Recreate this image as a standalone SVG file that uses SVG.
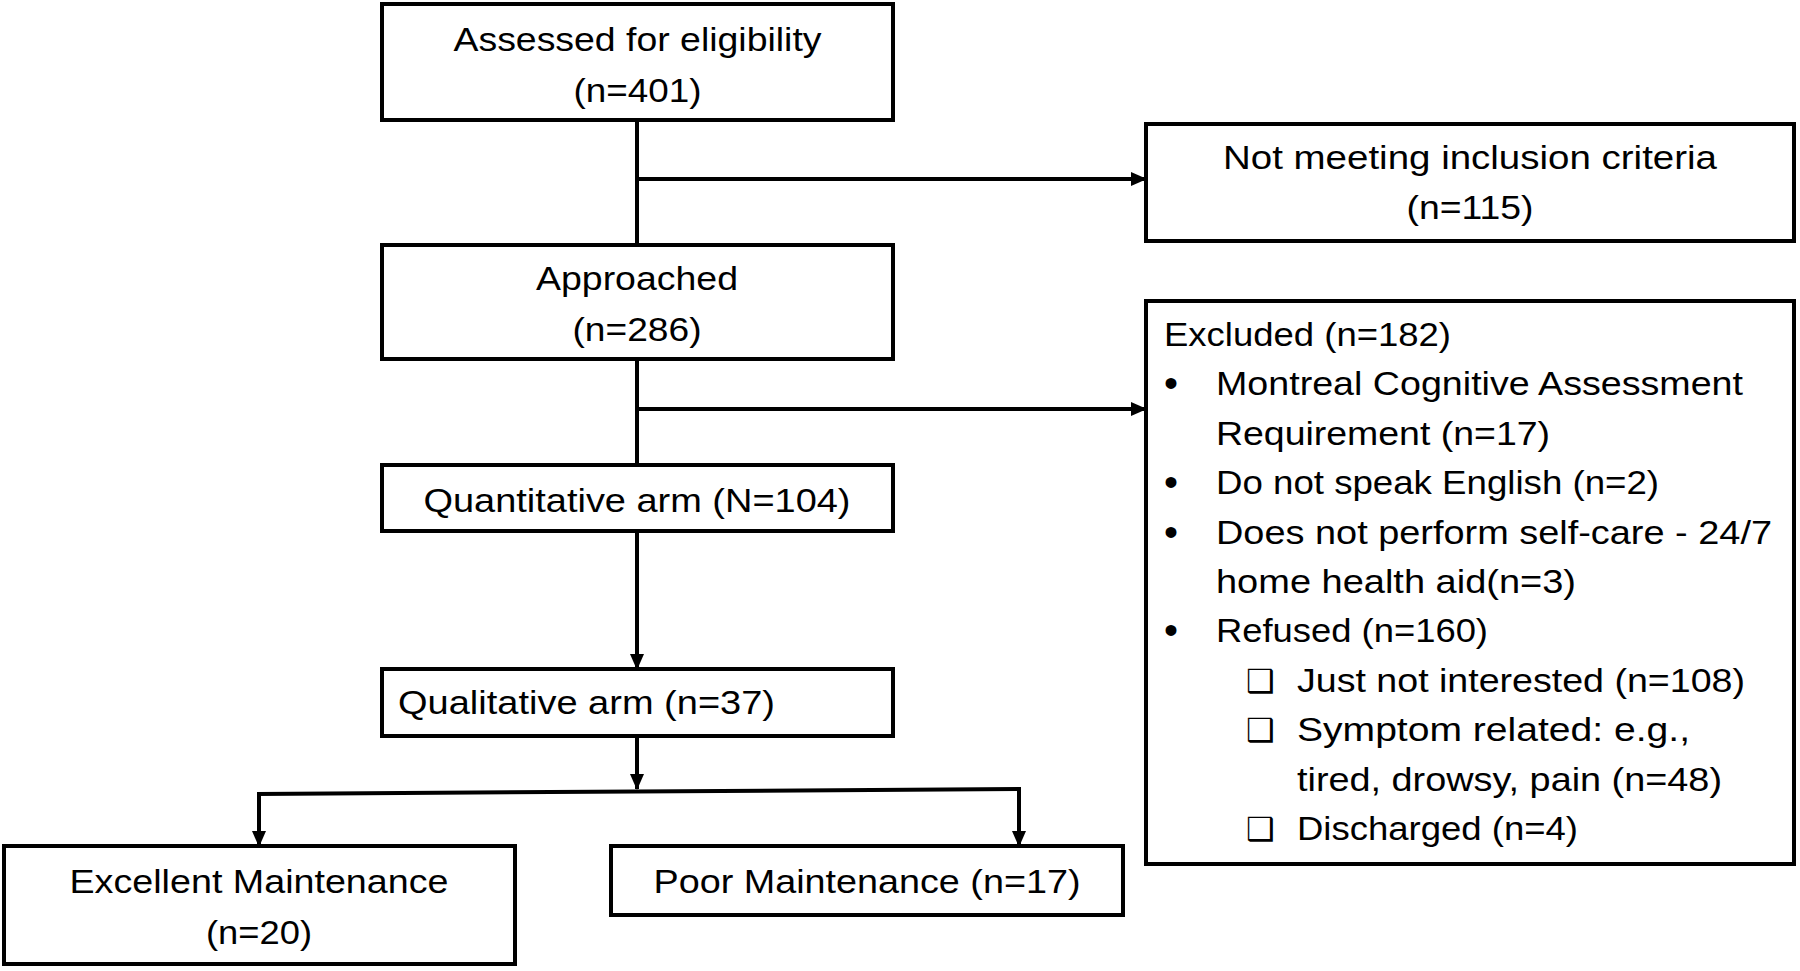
<svg xmlns="http://www.w3.org/2000/svg" width="1800" height="971" viewBox="0 0 1800 971">
<defs>
<style>
.box{fill:#fff;stroke:#000;stroke-width:4}
.t{font-family:"Liberation Sans",Arial,sans-serif;font-size:34px;fill:#000}
.c{text-anchor:middle}
.b{font-family:"Liberation Sans",Arial,sans-serif;font-size:40px;fill:#000}
.sym{font-family:"DejaVu Sans",sans-serif;font-size:32px;font-weight:bold;fill:#000}
.ln{stroke:#000;stroke-width:4;fill:none}
</style>
<marker id="ah" markerUnits="userSpaceOnUse" markerWidth="16" markerHeight="16" refX="15" refY="8" orient="auto">
<path d="M0,1 L16,8 L0,15 z" fill="#000"/>
</marker>
</defs>
<rect width="1800" height="971" fill="#fff"/>
<g id="connectors">
<path class="ln" d="M637,120 V245"/>
<path class="ln" d="M637,179 H1146" marker-end="url(#ah)"/>
<path class="ln" d="M637,359 V465"/>
<path class="ln" d="M637,409 H1146" marker-end="url(#ah)"/>
<path class="ln" d="M637,531 V669" marker-end="url(#ah)"/>
<path class="ln" d="M637,736 V789" marker-end="url(#ah)"/>
<path class="ln" d="M257,794 L1021,789"/>
<path class="ln" d="M259,792 V846" marker-end="url(#ah)"/>
<path class="ln" d="M1019,789 V846" marker-end="url(#ah)"/>
</g>
<g id="assessed">
<rect class="box" x="382" y="4" width="511" height="116"/>
<text class="t c" x="637.5" y="51" textLength="368" lengthAdjust="spacingAndGlyphs">Assessed for eligibility</text>
<text class="t c" x="637.5" y="102" textLength="128" lengthAdjust="spacingAndGlyphs">(n=401)</text>
</g>
<g id="not-meeting">
<rect class="box" x="1146" y="124" width="648" height="117"/>
<text class="t c" x="1470" y="169" textLength="494" lengthAdjust="spacingAndGlyphs">Not meeting inclusion criteria</text>
<text class="t c" x="1470" y="219" textLength="127" lengthAdjust="spacingAndGlyphs">(n=115)</text>
</g>
<g id="approached">
<rect class="box" x="382" y="245" width="511" height="114"/>
<text class="t c" x="637" y="290" textLength="202" lengthAdjust="spacingAndGlyphs">Approached</text>
<text class="t c" x="637" y="341" textLength="129" lengthAdjust="spacingAndGlyphs">(n=286)</text>
</g>
<g id="excluded">
<rect class="box" x="1146" y="301" width="648" height="563"/>
<text class="t" x="1164" y="346" textLength="287" lengthAdjust="spacingAndGlyphs">Excluded (n=182)</text>
<text class="b" x="1164" y="397">•</text>
<text class="t" x="1216" y="395" textLength="527" lengthAdjust="spacingAndGlyphs">Montreal Cognitive Assessment</text>
<text class="t" x="1216" y="445" textLength="334" lengthAdjust="spacingAndGlyphs">Requirement (n=17)</text>
<text class="b" x="1164" y="496">•</text>
<text class="t" x="1216" y="494" textLength="443" lengthAdjust="spacingAndGlyphs">Do not speak English (n=2)</text>
<text class="b" x="1164" y="546">•</text>
<text class="t" x="1216" y="544" textLength="556" lengthAdjust="spacingAndGlyphs">Does not perform self-care - 24/7</text>
<text class="t" x="1216" y="593" textLength="360" lengthAdjust="spacingAndGlyphs">home health aid(n=3)</text>
<text class="b" x="1164" y="644">•</text>
<text class="t" x="1216" y="642" textLength="272" lengthAdjust="spacingAndGlyphs">Refused (n=160)</text>
<text class="sym" x="1246" y="692">❑</text>
<text class="t" x="1297" y="692" textLength="448" lengthAdjust="spacingAndGlyphs">Just not interested (n=108)</text>
<text class="sym" x="1246" y="741">❑</text>
<text class="t" x="1297" y="741" textLength="393" lengthAdjust="spacingAndGlyphs">Symptom related: e.g.,</text>
<text class="t" x="1297" y="791" textLength="425" lengthAdjust="spacingAndGlyphs">tired, drowsy, pain (n=48)</text>
<text class="sym" x="1246" y="840">❑</text>
<text class="t" x="1297" y="840" textLength="281" lengthAdjust="spacingAndGlyphs">Discharged (n=4)</text>
</g>
<g id="quantitative">
<rect class="box" x="382" y="465" width="511" height="66"/>
<text class="t c" x="637" y="512" textLength="427" lengthAdjust="spacingAndGlyphs">Quantitative arm (N=104)</text>
</g>
<g id="qualitative">
<rect class="box" x="382" y="669" width="511" height="67"/>
<text class="t" x="398" y="714" textLength="377" lengthAdjust="spacingAndGlyphs">Qualitative arm (n=37)</text>
</g>
<g id="excellent">
<rect class="box" x="4" y="846" width="511" height="118"/>
<text class="t c" x="259" y="893" textLength="379" lengthAdjust="spacingAndGlyphs">Excellent Maintenance</text>
<text class="t c" x="259" y="944" textLength="106" lengthAdjust="spacingAndGlyphs">(n=20)</text>
</g>
<g id="poor">
<rect class="box" x="611" y="846" width="512" height="69"/>
<text class="t c" x="867" y="893" textLength="427" lengthAdjust="spacingAndGlyphs">Poor Maintenance (n=17)</text>
</g>
</svg>
